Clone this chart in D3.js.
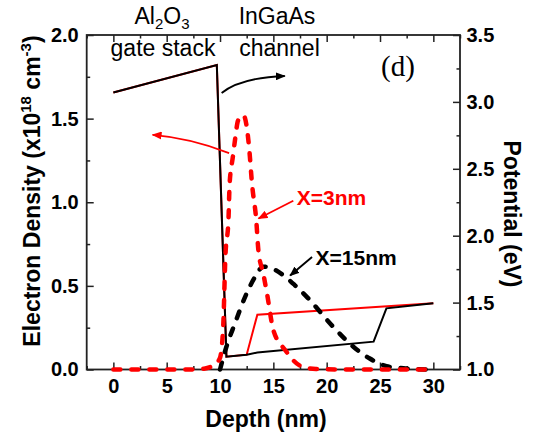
<!DOCTYPE html>
<html>
<head>
<meta charset="utf-8">
<script src="https://cdn.jsdelivr.net/npm/d3@7"></script>
<style>
  body { margin: 0; background: #fff; }
  text { font-family: "Liberation Sans", Arial, sans-serif; }
</style>
</head>
<body>
<script>
// depth (nm) vs conduction band potential (eV), right axis
const potDepth = [0, 9.7, 10.6, 12.5, 13.5, 24.4, 25.6, 30]
const potX15 = [3.07, 3.276, 1.096, 1.111, 1.127, 1.208, 1.457, 1.495]
const potDepth3 = [0, 9.7, 10.6, 12.5, 13.5, 30]
const potX3 = [3.07, 3.276, 1.096, 1.111, 1.41, 1.495]

// electron density (x1e18 cm^-3), left axis
const denDepth3 = [0, 7, 8.5, 9.5, 10, 10.3, 10.5, 10.8, 10.9, 11.2, 11.4, 11.7, 12.2, 12.55, 12.75, 13, 13.4, 13.6, 14.05, 14.4, 15, 16.1, 17.6, 19, 22, 29.3]
const denX3 = [0, 0, 0.005, 0.03, 0.07, 0.26, 0.67, 0.91, 1.11, 1.27, 1.37, 1.49, 1.52, 1.43, 1.31, 1.11, 0.89, 0.71, 0.575, 0.456, 0.236, 0.117, 0.02, 0.003, 0, 0]
const denDepth15 = [10, 10.6, 11.4, 12.5, 13.3, 14.05, 14.85, 15.9, 17, 18.2, 20.6, 22.5, 24, 25.6, 27.2, 29.3]
const denX15 = [0, 0.136, 0.276, 0.456, 0.555, 0.615, 0.605, 0.565, 0.505, 0.43, 0.256, 0.136, 0.067, 0.02, 0.007, 0]

const xTicks = [0, 5, 10, 15, 20, 25, 30]
const leftTicks = [0, 0.5, 1.0, 1.5, 2.0]
const rightTicks = [1.0, 1.5, 2.0, 2.5, 3.0, 3.5]

const W = 540, H = 437
const m = {left: 86.7, right: 80, top: 35, bottom: 67.5}

const svg = d3.select("body").append("svg").attr("width", W).attr("height", H)

const x = d3.scaleLinear().domain([-2.5, 32.5]).range([m.left, W - m.right])
const yL = d3.scaleLinear().domain([0, 2]).range([H - m.bottom, m.top])
const yR = d3.scaleLinear().domain([1, 3.5]).range([H - m.bottom, m.top])

// arrow heads
const defs = svg.append("defs")
const mk = (id, col) => defs.append("marker").attr("id", id)
    .attr("viewBox", "0 0 10 8").attr("refX", 9).attr("refY", 4)
    .attr("markerWidth", 10).attr("markerHeight", 8).attr("markerUnits", "userSpaceOnUse")
    .attr("orient", "auto")
    .append("path").attr("d", "M0,0 L10,4 L0,8 Z").attr("fill", col)
mk("ahK", "#000")
mk("ahR", "#ff0000")

// axes
const fmt = d3.format(".1f")
const bottomMaj = d3.axisBottom(x).tickValues(xTicks).tickSizeInner(-7).tickSizeOuter(0).tickPadding(9)
const bottomMin = d3.axisBottom(x).tickValues(d3.range(-2.5, 33, 5)).tickSizeInner(-3.5).tickSizeOuter(0).tickFormat("")
const topMaj = d3.axisTop(x).tickValues(xTicks).tickSizeInner(-7).tickSizeOuter(0).tickFormat("")
const topMin = d3.axisTop(x).tickValues(d3.range(-2.5, 33, 5)).tickSizeInner(-3.5).tickSizeOuter(0).tickFormat("")
const leftMaj = d3.axisLeft(yL).tickValues(leftTicks).tickSizeInner(-7).tickSizeOuter(0).tickPadding(8).tickFormat(fmt)
const leftMin = d3.axisLeft(yL).tickValues([0.25, 0.75, 1.25, 1.75]).tickSizeInner(-3.5).tickSizeOuter(0).tickFormat("")
const rightMaj = d3.axisRight(yR).tickValues(rightTicks).tickSizeInner(-7).tickSizeOuter(0).tickPadding(6.5).tickFormat(fmt)
const rightMin = d3.axisRight(yR).tickValues([1.25, 1.75, 2.25, 2.75, 3.25]).tickSizeInner(-3.5).tickSizeOuter(0).tickFormat("")

const put = (ax, tr) => {
    const g = svg.append("g").attr("transform", tr).call(ax)
    g.select(".domain").remove()
    g.selectAll("line").attr("stroke", "#222").attr("stroke-width", 1.5)
    g.selectAll("text").attr("font-size", 20).attr("font-weight", "bold")
        .attr("fill", "#000").style("font-family", '"Liberation Sans", Arial, sans-serif')
    return g
}
put(bottomMaj, `translate(0,${H - m.bottom})`)
put(bottomMin, `translate(0,${H - m.bottom})`)
put(topMaj, `translate(0,${m.top})`)
put(topMin, `translate(0,${m.top})`)
put(leftMaj, `translate(${m.left},0)`)
put(leftMin, `translate(${m.left},0)`)
put(rightMaj, `translate(${W - m.right},0)`)
put(rightMin, `translate(${W - m.right},0)`)

svg.append("rect").attr("x", m.left).attr("y", m.top)
    .attr("width", W - m.left - m.right).attr("height", H - m.top - m.bottom)
    .attr("fill", "none").attr("stroke", "#222").attr("stroke-width", 1.8)

// potential lines
const potLine = d3.line().x(d => x(d[0])).y(d => yR(d[1]))
svg.append("path").datum(d3.zip(potDepth3, potX3)).attr("d", potLine)
    .attr("fill", "none").attr("stroke", "#ff0000").attr("stroke-width", 2)
svg.append("path").datum(d3.zip(potDepth, potX15)).attr("d", potLine)
    .attr("fill", "none").attr("stroke", "#000").attr("stroke-width", 2)

// density dashed
const denLine = d3.line().x(d => x(d[0])).y(d => yL(d[1])).curve(d3.curveMonotoneX)
svg.append("path").datum(d3.zip(denDepth15, denX15)).attr("d", denLine)
    .attr("fill", "none").attr("stroke", "#000").attr("stroke-width", 4.5)
    .attr("stroke-dasharray", "7,11").attr("stroke-linecap", "round")
svg.append("path").datum(d3.zip(denDepth3, denX3)).attr("d", denLine)
    .attr("fill", "none").attr("stroke", "#ff0000").attr("stroke-width", 4.5)
    .attr("stroke-dasharray", "7,11").attr("stroke-linecap", "round")

// annotation arrows (in data units of the left axis)
const qArrow = (p0, c, p1, col, id) => {
    const p = d3.path()
    p.moveTo(x(p0[0]), yL(p0[1]))
    if (c) p.quadraticCurveTo(x(c[0]), yL(c[1]), x(p1[0]), yL(p1[1]))
    else p.lineTo(x(p1[0]), yL(p1[1]))
    svg.append("path").attr("d", p.toString()).attr("fill", "none")
        .attr("stroke", col).attr("stroke-width", 1.8).attr("marker-end", `url(#${id})`)
}
qArrow([10.15, 1.653], [11.9, 1.745], [16.07, 1.755], "#000", "ahK")
qArrow([10.85, 1.294], [7.26, 1.384], [3.68, 1.403], "#ff0000", "ahR")
qArrow([16.87, 1.009], null, [13.61, 0.903], "#ff0000", "ahR")
qArrow([18.63, 0.673], null, [16.57, 0.562], "#000", "ahK")

// labels
const al = svg.append("text").attr("x", 162).attr("y", 24).attr("text-anchor", "middle").attr("font-size", 23)
al.append("tspan").text("Al")
al.append("tspan").text("2").attr("font-size", 15).attr("dy", 5)
al.append("tspan").text("O").attr("dy", -5)
al.append("tspan").text("3").attr("font-size", 15).attr("dy", 5)
svg.append("text").attr("x", 163).attr("y", 56).attr("text-anchor", "middle").attr("font-size", 23).text("gate stack")
svg.append("text").attr("x", 277).attr("y", 24).attr("text-anchor", "middle").attr("font-size", 23).text("InGaAs")
svg.append("text").attr("x", 279.5).attr("y", 56).attr("text-anchor", "middle").attr("font-size", 23).text("channel")
svg.append("text").attr("x", 381).attr("y", 76).attr("font-size", 29)
    .style("font-family", '"Liberation Serif", "Times New Roman", serif').text("(d)")

svg.append("text").attr("x", 296.7).attr("y", 205).attr("font-size", 21).attr("font-weight", "bold")
    .attr("fill", "#ff0000").text("X=3nm")
svg.append("text").attr("x", 315.6).attr("y", 265).attr("font-size", 21).attr("font-weight", "bold")
    .attr("fill", "#000").text("X=15nm")

// axis titles
svg.append("text").attr("x", 266).attr("y", 427).attr("text-anchor", "middle")
    .attr("font-size", 23).attr("font-weight", "bold").text("Depth (nm)")

const yt = svg.append("text").attr("transform", "translate(39.5,191) rotate(-90)")
    .attr("text-anchor", "middle").attr("font-size", 23).attr("font-weight", "bold")
yt.append("tspan").text("Electron Density (x10")
yt.append("tspan").text("18").attr("font-size", 15).attr("dy", -9)
yt.append("tspan").text(" cm").attr("dy", 9)
yt.append("tspan").text("-3").attr("font-size", 15).attr("dy", -9)
yt.append("tspan").text(")").attr("dy", 9)

svg.append("text").attr("transform", "translate(504,214) rotate(90)")
    .attr("text-anchor", "middle").attr("font-size", 23).attr("font-weight", "bold").text("Potential (eV)")
</script>
</body>
</html>
